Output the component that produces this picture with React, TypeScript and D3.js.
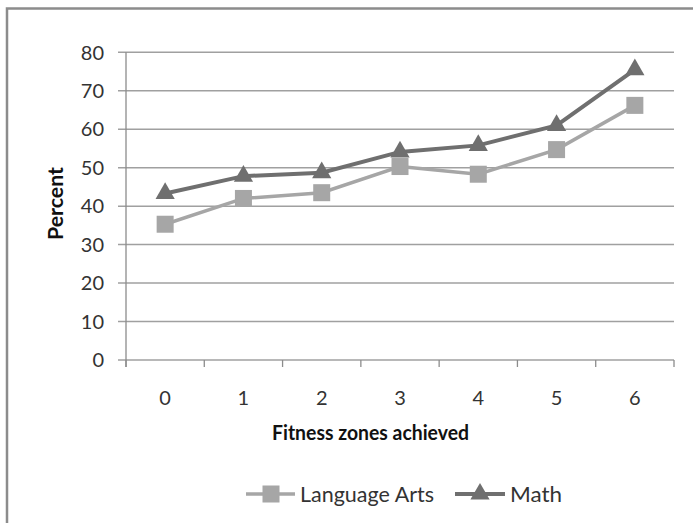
import React from "react";
import * as d3 from "d3";

const categories = ["0", "1", "2", "3", "4", "5", "6"];
const languageArts = [35.3, 42.0, 43.5, 50.3, 48.3, 54.7, 66.2];
const math = [43.3, 47.8, 48.7, 54.1, 55.8, 61.0, 75.5];
const yTicks = [0, 10, 20, 30, 40, 50, 60, 70, 80];

const W = 693;
const H = 523;
const FONT = "Lato, 'Open Sans', sans-serif";

export default function App() {
  const left = 126;
  const right = 674;
  const top = 52.3;
  const bottom = 360;
  const x = d3.scaleBand<string>().domain(categories).range([left, right]);
  const y = d3.scaleLinear().domain([0, 80]).range([bottom, top]);
  const cx = (c: string) => (x(c) as number) + x.bandwidth() / 2;
  const line = d3
    .line<number>()
    .x((_, i) => cx(categories[i]))
    .y((v) => y(v));
  const tri = d3.symbol().type(d3.symbolTriangle).size(160);
  const laColor = "#a6a6a6";
  const mathColor = "#6f6f6f";
  const triPath = tri() as string;
  const ly = 494;

  return (
    <svg width={W} height={H} style={{ position: "absolute", left: 0, top: 0 }}>
      <rect x={0} y={0} width={W} height={H} fill="#fff" />
      {/* outer frame */}
      <path d={`M7,${H} L7,8.5 L${W},8.5`} fill="none" stroke="#8c8c8c" strokeWidth={2.5} />
      {/* gridlines */}
      {yTicks.map((t) => (
        <g key={t}>
          <line x1={118} x2={right} y1={y(t)} y2={y(t)} stroke="#a0a0a0" strokeWidth={1.5} />
          <text
            x={104}
            y={y(t)}
            dy="0.36em"
            textAnchor="end"
            fontFamily={FONT}
            fontSize={20}
            fill="#333"
          >
            {t}
          </text>
        </g>
      ))}
      {/* y axis */}
      <line x1={left} x2={left} y1={top} y2={bottom + 7} stroke="#8c8c8c" strokeWidth={1.3} />
      {/* x ticks */}
      {categories.map((c, i) => (
        <line
          key={"t" + i}
          x1={x(c) as number}
          x2={x(c) as number}
          y1={bottom}
          y2={bottom + 7}
          stroke="#8c8c8c"
          strokeWidth={1.3}
        />
      ))}
      <line x1={right} x2={right} y1={bottom} y2={bottom + 7} stroke="#8c8c8c" strokeWidth={1.3} />
      {categories.map((c) => (
        <text
          key={"l" + c}
          x={cx(c)}
          y={397.5}
          dy="0.36em"
          textAnchor="middle"
          fontFamily={FONT}
          fontSize={20}
          fill="#333"
        >
          {c}
        </text>
      ))}
      <text
        x={272}
        y={433}
        dy="0.36em"
        textLength={197}
        lengthAdjust="spacingAndGlyphs"
        fontFamily={FONT}
        fontWeight="bold"
        fontSize={20}
        fill="#111"
      >
        Fitness zones achieved
      </text>
      <text
        transform={`translate(56,${240}) rotate(-90)`}
        dy="0.36em"
        textLength={73}
        lengthAdjust="spacingAndGlyphs"
        fontFamily={FONT}
        fontWeight="bold"
        fontSize={20}
        fill="#111"
      >
        Percent
      </text>
      {/* series */}
      <path d={line(languageArts) as string} fill="none" stroke={laColor} strokeWidth={3.5} />
      <path d={line(math) as string} fill="none" stroke={mathColor} strokeWidth={4} />
      {languageArts.map((v, i) => (
        <rect
          key={"s" + i}
          x={cx(categories[i]) - 8.5}
          y={y(v) - 8.5}
          width={17}
          height={17}
          fill={laColor}
        />
      ))}
      {math.map((v, i) => (
        <path
          key={"m" + i}
          d={triPath}
          transform={`translate(${cx(categories[i])},${y(v)})`}
          fill={mathColor}
        />
      ))}
      {/* legend */}
      <g>
        <line x1={246} x2={295} y1={ly} y2={ly} stroke={laColor} strokeWidth={3.5} />
        <rect x={262.5} y={ly - 8.5} width={17} height={17} fill={laColor} />
        <text
          x={300}
          y={ly}
          dy="0.36em"
          textLength={134}
          lengthAdjust="spacingAndGlyphs"
          fontFamily={FONT}
          fontSize={21}
          fill="#333"
        >
          Language Arts
        </text>
        <line x1={455} x2={505} y1={ly} y2={ly} stroke={mathColor} strokeWidth={4} />
        <path d={triPath} transform={`translate(480,${ly})`} fill={mathColor} />
        <text
          x={510}
          y={ly}
          dy="0.36em"
          textLength={52}
          lengthAdjust="spacingAndGlyphs"
          fontFamily={FONT}
          fontSize={21}
          fill="#333"
        >
          Math
        </text>
      </g>
    </svg>
  );
}
